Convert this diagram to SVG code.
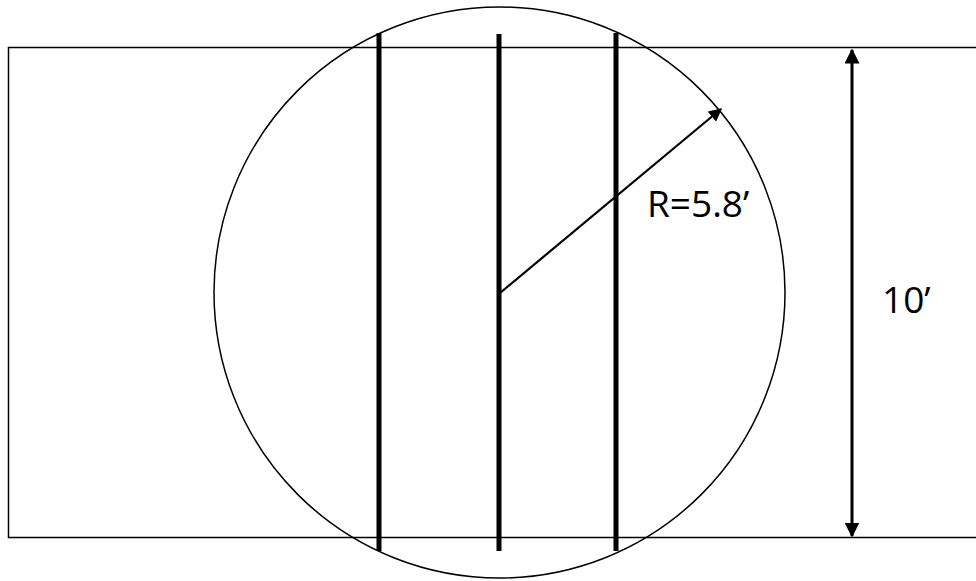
<svg xmlns="http://www.w3.org/2000/svg" width="976" height="581" viewBox="0 0 976 581">
<style>
.thin{fill:none;stroke:#000;stroke-width:1.5}
.bar{stroke:#000;stroke-width:5}
.lbl{font-family:"Open Sans","Liberation Sans",sans-serif;font-size:37px;fill:#000}
</style>
<defs>
<marker id="ah" viewBox="0 0 10 10" refX="9" refY="5" markerWidth="5" markerHeight="5" markerUnits="strokeWidth" orient="auto-start-reverse">
<path d="M0,0 L10,5 L0,10 z" fill="#000"/>
</marker>
<marker id="ah2" viewBox="0 0 10 10" refX="9" refY="5" markerWidth="6" markerHeight="6" markerUnits="strokeWidth" orient="auto-start-reverse">
<path d="M0,0 L10,5 L0,10 z" fill="#000"/>
</marker>
</defs>
<rect width="976" height="581" fill="#fff"/>
<g id="slab">
<path class="thin" d="M980,47.5 H8.5 V537.5 H980"/>
</g>
<g id="circle">
<circle class="thin" cx="499.5" cy="292.5" r="285.5"/>
</g>
<g id="bars">
<line class="bar" x1="379" y1="33" x2="379" y2="551"/>
<line class="bar" x1="499" y1="34" x2="499" y2="551"/>
<line class="bar" x1="616" y1="33" x2="616" y2="551"/>
</g>
<g id="connectors">
<line x1="500" y1="293" x2="721" y2="109" stroke="#000" stroke-width="2.2" marker-end="url(#ah2)"/>
<line x1="852" y1="50" x2="852" y2="536" stroke="#000" stroke-width="3" marker-start="url(#ah)" marker-end="url(#ah)"/>
</g>
<g id="labels">
<text class="lbl" x="647" y="217">R=5.8’</text>
<text class="lbl" x="882" y="313">10’</text>
</g>
</svg>
